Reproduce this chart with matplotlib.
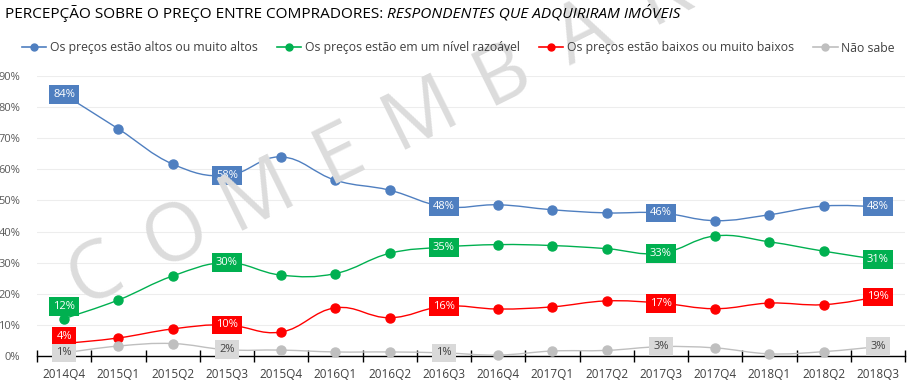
import numpy as np
import matplotlib
matplotlib.use("Agg")
import matplotlib.pyplot as plt
from matplotlib.path import Path
from matplotlib.patches import PathPatch
from matplotlib.lines import Line2D

plt.rcParams['font.family'] = ['Open Sans', 'DejaVu Sans']

quarters = ['2014Q4', '2015Q1', '2015Q2', '2015Q3', '2015Q4', '2016Q1', '2016Q2', '2016Q3',
            '2016Q4', '2017Q1', '2017Q2', '2017Q3', '2017Q4', '2018Q1', '2018Q2', '2018Q3']

altos = [84, 73, 61.7, 58, 64, 56.5, 53.3, 48, 48.6, 47, 46, 46, 43.5, 45.4, 48.2, 48]
razoavel = [12, 18, 25.7, 30, 26, 26.5, 33, 35, 35.8, 35.5, 34.5, 33, 38.6, 36.7, 33.7, 31]
baixos = [4, 5.8, 8.7, 10, 7.7, 15.5, 12.3, 16, 15.1, 15.8, 17.7, 17, 15.2, 17, 16.5, 19]
nao_sabe = [1, 3.2, 4, 2, 1.9, 1.3, 1.3, 1, 0.3, 1.6, 1.8, 3, 2.6, 0.7, 1.4, 3]

series_names = ['Os preços estão altos ou muito altos', 'Os preços estão em um nível razoável',
                'Os preços estão baixos ou muito baixos', 'Não sabe']
series = [altos, razoavel, baixos, nao_sabe]
colors = ['#4F7FC0', '#00B050', '#FF0000', '#BFBFBF']
box_colors = ['#4F7FC0', '#00B050', '#FF0000', '#D9D9D9']
text_colors = ['white', 'white', 'white', '#404040']
label_idx = [0, 3, 7, 11, 15]
# first-quarter labels of green and red sit a bit above their points (pixels)
label_shift = [0, 12, 7, 0]


def smooth_path(xs, ys, t=0.2):
    # cubic bezier through the points (catmull-rom style control points)
    verts = [(xs[0], ys[0])]
    codes = [Path.MOVETO]
    n = len(xs)
    for i in range(n - 1):
        x0, y0 = (xs[i - 1], ys[i - 1]) if i > 0 else (xs[i], ys[i])
        x1, y1 = xs[i], ys[i]
        x2, y2 = xs[i + 1], ys[i + 1]
        x3, y3 = (xs[i + 2], ys[i + 2]) if i + 2 < n else (x2, y2)
        c1 = (x1 + (x2 - x0) * t, y1 + (y2 - y0) * t)
        c2 = (x2 - (x3 - x1) * t, y2 - (y3 - y1) * t)
        verts += [c1, c2, (x2, y2)]
        codes += [Path.CURVE4] * 3
    return Path(verts, codes)


fig = plt.figure(figsize=(9.1, 3.84), dpi=100)
ax = fig.add_axes([37 / 910, 1 - 356 / 384, 868 / 910, 280 / 384])

x = np.arange(len(quarters))
for vals, c, bc, tc, sh in zip(series, colors, box_colors, text_colors, label_shift):
    ax.add_patch(PathPatch(smooth_path(x, vals), facecolor='none', edgecolor=c, lw=1.0, zorder=3))
    ax.plot(x, vals, 'o', color=c, ms=6.5, zorder=4, clip_on=False)
    for i in label_idx:
        dy = sh * 0.72 if i == 0 else 0
        ax.annotate(f'{vals[i]:.0f}%', (x[i], vals[i]), xytext=(0, dy), textcoords='offset points',
                    ha='center', va='center', color=tc, fontsize=8, zorder=6, annotation_clip=False,
                    bbox=dict(boxstyle='square,pad=0.35', fc=bc, ec='none'))

ax.set_xlim(-0.5, len(quarters) - 0.5)
ax.set_ylim(0, 90)
ax.set_yticks(range(0, 100, 10))
ax.set_yticklabels([f'{v}%' for v in range(0, 100, 10)], color='#595959', fontsize=8)
ax.set_xticks(x)
ax.set_xticklabels(quarters, color='#404040', fontsize=8.5)
ax.set_xticks(np.arange(-0.5, len(quarters), 1), minor=True)
ax.tick_params(axis='x', which='major', length=0, pad=9)
ax.tick_params(axis='x', which='minor', length=9, direction='inout', width=1, color='black')
ax.tick_params(axis='y', length=0, pad=12)
ax.grid(axis='y', color='#EDEDED', lw=0.8)
ax.set_axisbelow(True)
for s in ['left', 'right', 'top']:
    ax.spines[s].set_visible(False)
ax.spines['bottom'].set_color('black')
ax.spines['bottom'].set_linewidth(1.0)

# watermark
wm = 'COMEMBAR'
ang = 26.3
step = 90.7
x0, y0 = 95, 276
for k, ch in enumerate(wm):
    px = x0 + k * step * np.cos(np.radians(ang))
    py = y0 - k * step * np.sin(np.radians(ang))
    fig.text(px / 910, 1 - py / 384, ch, fontsize=58, color='#DCDCDC', ha='center', va='center',
             rotation=ang, rotation_mode='anchor', zorder=0)

# title
t1 = fig.text(5 / 910, 1 - 13 / 384, 'PERCEPÇÃO SOBRE O PREÇO ENTRE COMPRADORES: ', fontsize=11.1,
              color='black', va='center', ha='left')
fig.canvas.draw()
bb = t1.get_window_extent()
fig.text(bb.x1 / 910, 1 - 13 / 384, 'RESPONDENTES QUE ADQUIRIRAM IMÓVEIS', fontsize=11.1,
         style='italic', color='black', va='center', ha='left')

# legend
handles = [Line2D([], [], color=c, marker='o', ms=5, lw=1.2) for c in colors]
fig.legend(handles, series_names, loc='center left', bbox_to_anchor=(22 / 910, 1 - 48 / 384),
           ncol=4, frameon=False, fontsize=8.8, handlelength=2.0, handletextpad=0.3,
           columnspacing=1.55, labelcolor='#404040', borderaxespad=0, borderpad=0)

fig.savefig('out.png', dpi=100)
